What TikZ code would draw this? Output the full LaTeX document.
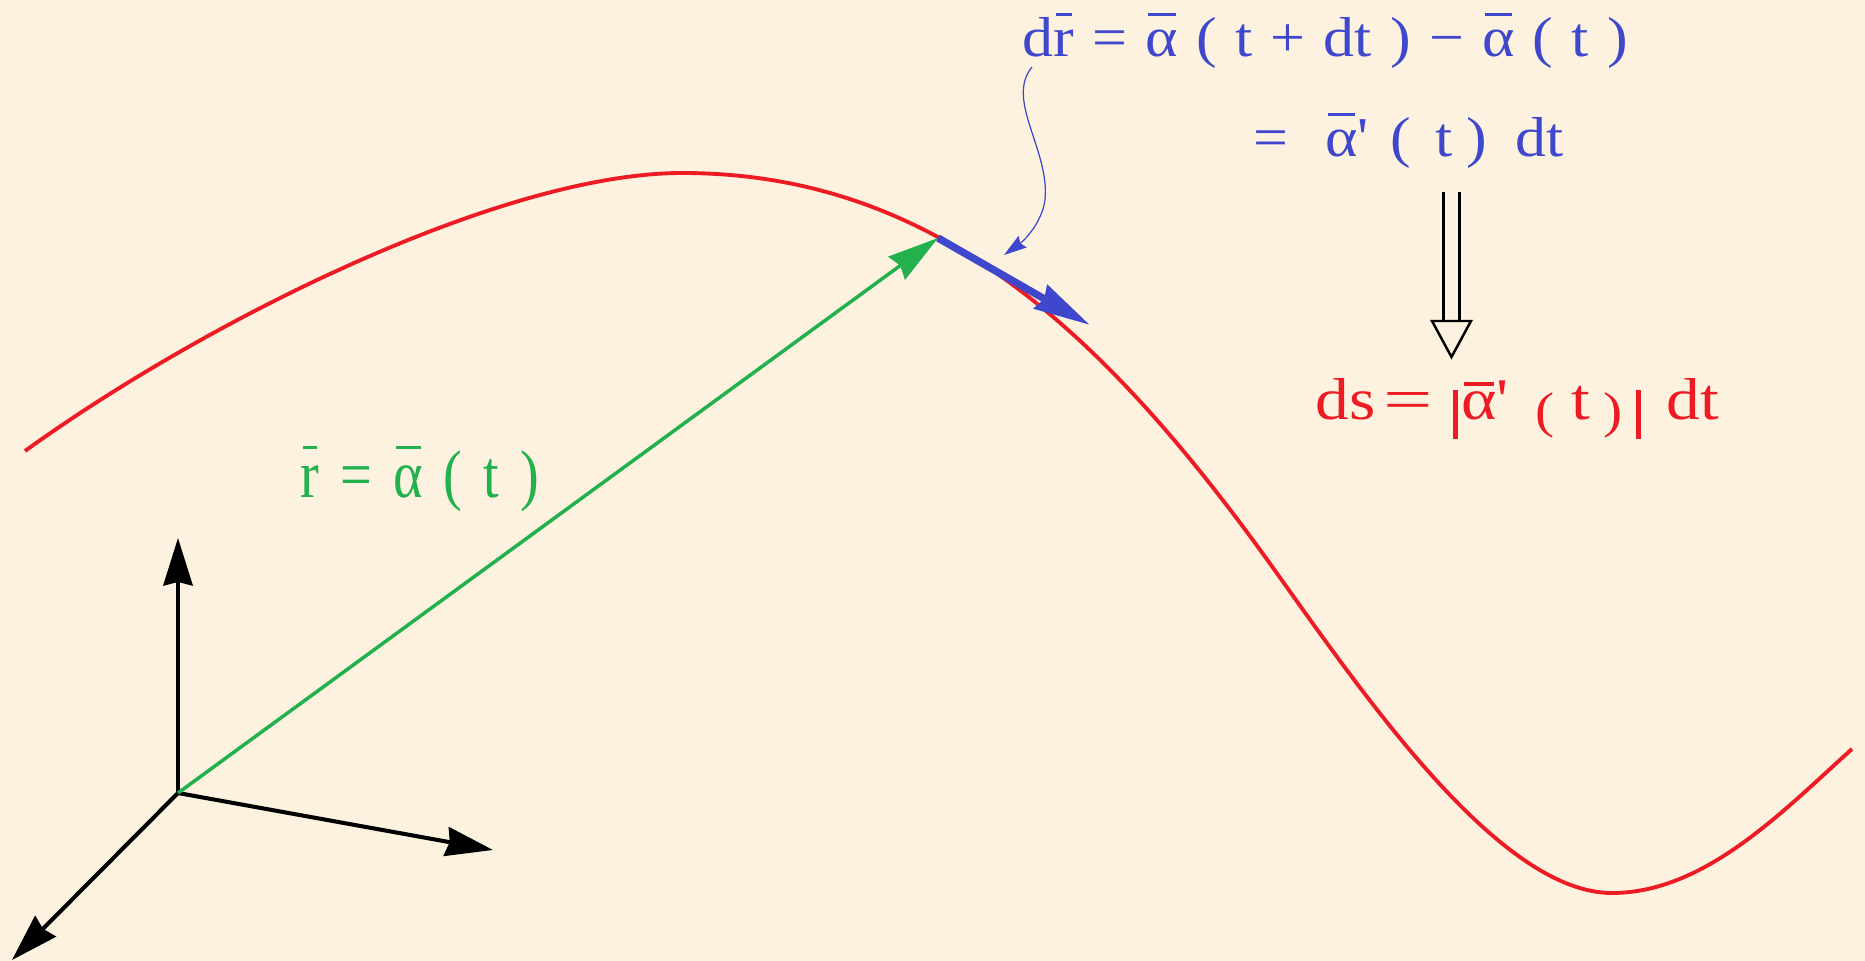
\documentclass[tikz,border=0pt]{standalone}
\usepackage{fontspec}
\usepackage{graphicx}
\setmainfont{Liberation Serif}[WordSpace=1.18]
\newfontfamily{\widefont}{Liberation Serif}[WordSpace=1.5]
\usetikzlibrary{arrows.meta,calc}
\definecolor{pcink}{HTML}{000000}
\definecolor{pcred}{HTML}{ED1C24}
\definecolor{pcgreen}{HTML}{22B14C}
\definecolor{pcblue}{HTML}{3F48CC}
\definecolor{pcpaper}{HTML}{FDF2E0}
\newsavebox{\barbox}
\newcommand{\ovbar}[2][0.72em]{\sbox{\barbox}{#2}\makebox[0pt][l]{\hspace{0.04em}\raisebox{#1}{\rule{\dimexpr\wd\barbox-0.08em\relax}{0.055em}}}\usebox{\barbox}}
\newcommand{\tick}{\textquotesingle}
\newcommand{\absbar}{\rule[-0.32em]{0.07em}{0.82em}}
\newcommand{\lowp}[1]{\raisebox{-0.12em}{\scalebox{0.85}{#1}}}
\newcommand{\weq}{\scalebox{1.3}[1]{=}}

\begin{document}
\begin{tikzpicture}[x=0.01cm, y=-0.01cm, font=\fontsize{16pt}{19pt}\selectfont,
    axis/.style={draw=pcink, line width=1.15pt, -{Stealth[length=13.5pt, width=8.3pt, inset=1pt]}},
    curve/.style={draw=pcred, line width=1.1pt},
    posvec/.style={draw=pcgreen, line width=1pt, -{Stealth[length=14.5pt, width=8pt, inset=1.2pt]}},
    dvec/.style={draw=pcblue, line width=2.1pt, -{Stealth[length=16pt, width=7.5pt, inset=1pt]}},
    pointer/.style={draw=pcblue, line width=0.35pt, -{Stealth[length=6.5pt, width=4pt, inset=0.8pt]}},
    implies/.style={draw=pcink, line width=0.7pt},
    eq/.style={anchor=base west, inner sep=0pt},
  ]
  % paper
  \fill[pcpaper] (0,0) rectangle (1865,961);
  \useasboundingbox (0,0) rectangle (1865,961);

  % origin, point on the curve and the tip of dr
  \coordinate (O) at (178,793);
  \coordinate (P) at (938,238);
  \coordinate (Q) at (1090,325);
  \coordinate (ez) at (178,538);
  \coordinate (ex) at (493,850);
  \coordinate (ey) at (12,960);

  % the curve alpha(t)
  \draw[curve] (25,451) .. controls (205,321) and (502,173) .. (682,173)
    .. controls (932,173) and (1102,328) .. (1276,572)
    .. controls (1366,698) and (1500,893) .. (1612,893)
    .. controls (1705,893) and (1783,811) .. (1852,749);

  % axes
  \draw[axis] (O) -- (ez);
  \draw[axis] (O) -- (ex);
  \draw[axis] (O) -- (ey);

  % position vector and its increment
  \draw[posvec] (O) -- (P);
  \draw[dvec] (P) -- (Q);

  % formulas
  \node[eq, text=pcblue] (eq1) at (1022,57)
    {\scalebox{1.1}[1]{d\ovbar{r} = \ovbar{α} ( t + dt ) − \ovbar{α} ( t )}};
  \node[eq, text=pcblue] (eq2) at (1253,157)
    {\scalebox{1.1}[1]{=\ \ \ovbar{α}\tick{}\kern0.06em\ (\kern0.1em\ t\kern-0.08em\ ) \,dt}};
  \node[eq, text=pcred] (ds) at (1315,420)
    {\scalebox{1.2}[1.05]{ds\kern0.12em\weq\ \absbar\kern0.05em\ovbar[0.58em]{α}\tick\kern0.1em\ \lowp{(}\kern0.25em t\kern0.2em\lowp{)}\kern0.2em\absbar\kern0.08em\ dt}};
  \node[eq, text=pcgreen] (rvec) at (300,498)
    {\scalebox{1}[1.2]{\widefont\ovbar{r} = \ovbar{α} ( t )}};

  % thin pointer from the label to dr
  \coordinate (ptr) at (1032,67);
  \draw[pointer] (ptr) .. controls (1005,100) and (1050,150) .. (1045,200)
    .. controls (1042,222) and (1025,240) .. (1004,255);

  % implication: two rails and an open head
  \coordinate (imp) at (1451.5,192);
  \coordinate (impend) at (1451.5,357);
  \draw[implies] ($(imp)+(-8,0)$) -- ($(imp)+(-8,129)$);
  \draw[implies] ($(imp)+(8,0)$) -- ($(imp)+(8,129)$);
  \draw[implies, fill=pcpaper] ($(imp)+(-19.5,129)$) -- ($(imp)+(19.5,129)$) -- (impend) -- cycle;
\end{tikzpicture}
\end{document}
